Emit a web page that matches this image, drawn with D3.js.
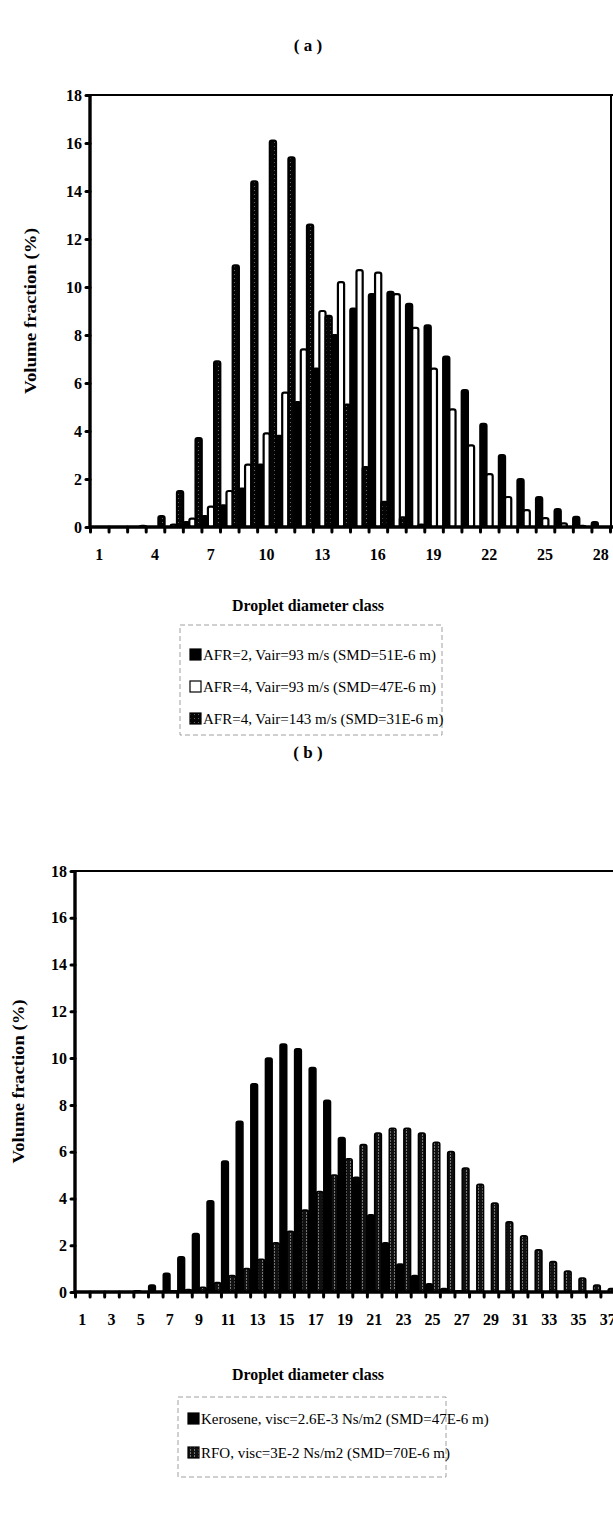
<!DOCTYPE html>
<html><head><meta charset="utf-8">
<script src="https://cdn.jsdelivr.net/npm/d3@7"></script>
<style>body{margin:0;background:#fff;} svg text{font-family:"Liberation Serif","Times New Roman",serif;fill:#000;}</style>
</head><body><svg id="c" width="613" height="1540"></svg>
<script>
// ---------- DATA ----------
const classesA = d3.range(1, 29);
const afr2v93  = [0,0,0,0,0,0.2,0.45,0.9,1.6,2.6,3.8,5.2,6.6,8.0,9.1,9.7,9.8,9.3,8.4,7.1,5.7,4.3,3.0,2.0,1.25,0.75,0.42,0.2];
const afr4v93  = [0,0,0,0,0.1,0.35,0.85,1.5,2.6,3.9,5.6,7.4,9.0,10.2,10.7,10.6,9.7,8.3,6.6,4.9,3.4,2.2,1.25,0.7,0.37,0.15,0.05,0];
const afr4v143 = [0,0,0.05,0.45,1.5,3.7,6.9,10.9,14.4,16.1,15.4,12.6,8.8,5.1,2.5,1.05,0.4,0.1,0,0,0,0,0,0,0,0,0,0];
const xLabelsA = [1,4,7,10,13,16,19,22,25,28];
const legendA  = ["AFR=2, Vair=93 m/s (SMD=51E-6 m)","AFR=4, Vair=93 m/s (SMD=47E-6 m)","AFR=4, Vair=143 m/s (SMD=31E-6 m)"];

const classesB = d3.range(1, 38);
const kerosene = [0,0,0,0,0.05,0.3,0.8,1.5,2.5,3.9,5.6,7.3,8.9,10.0,10.6,10.4,9.6,8.2,6.6,4.9,3.3,2.1,1.2,0.7,0.35,0.15,0.05,0,0,0,0,0,0,0,0,0,0];
const rfo      = [0,0,0,0,0,0,0.05,0.1,0.2,0.4,0.7,1.0,1.4,2.1,2.6,3.5,4.3,5.0,5.7,6.3,6.8,7.0,7.0,6.8,6.4,6.0,5.3,4.6,3.8,3.0,2.4,1.8,1.3,0.9,0.6,0.3,0.15];
const xLabelsB = d3.range(1, 38, 2);
const legendB  = ["Kerosene, visc=2.6E-3 Ns/m2 (SMD=47E-6 m)","RFO, visc=3E-2 Ns/m2 (SMD=70E-6 m)"];

const yTicks = [0,2,4,6,8,10,12,14,16,18];

// ---------- DRAW ----------
const svg = d3.select("#c");
const defs = svg.append("defs");
const pat = defs.append("pattern").attr("id","hatch").attr("width",4).attr("height",4).attr("patternUnits","userSpaceOnUse");
pat.append("rect").attr("width",4).attr("height",4).attr("fill","#050505");
pat.append("rect").attr("x",2).attr("y",2).attr("width",1).attr("height",1).attr("fill","#666");
const pat2 = defs.append("pattern").attr("id","hatch2").attr("width",4).attr("height",3).attr("patternUnits","userSpaceOnUse");
pat2.append("rect").attr("width",4).attr("height",3).attr("fill","#111");
pat2.append("rect").attr("x",2).attr("width",1).attr("height",2).attr("fill","#777");

function drawChart(o) {
  const g = svg.append("g");
  const x0 = d3.scaleBand().domain(o.classes).range([o.left, o.right]).paddingInner(0).paddingOuter(0);
  const xLin = d3.scaleLinear().domain([0.5, o.classes.length + 0.5]).range([o.left, o.right]);
  const y = d3.scaleLinear().domain([0, 18]).range([o.bottom, o.top]);
  const x1 = d3.scaleBand().domain(d3.range(o.series.length)).range([o.barOff, x0.bandwidth() + o.barOff]).padding(o.barPad);

  g.append("text").attr("x", 308).attr("y", o.titleY).attr("text-anchor","middle")
    .attr("font-weight","bold").attr("font-size", 17).text(o.title);

  o.series.forEach((s, si) => {
    g.append("g").selectAll("rect").data(o.classes.map((c, i) => ({c, v: s.values[i]})).filter(d => d.v > 0))
      .join("rect")
      .attr("x", d => x0(d.c) + x1(si))
      .attr("y", d => y(d.v))
      .attr("width", x1.bandwidth())
      .attr("height", d => o.bottom - y(d.v))
      .attr("rx", 2)
      .attr("fill", s.fill).attr("stroke","#000").attr("stroke-width", o.barStroke);
  });

  g.append("line").attr("x1", o.left).attr("x2", 613).attr("y1", o.top).attr("y2", o.top).attr("stroke","#000").attr("stroke-width",2);
  g.append("line").attr("x1", o.frameRight).attr("x2", o.frameRight).attr("y1", o.top).attr("y2", o.bottom).attr("stroke","#000").attr("stroke-width",2);

  const ya = g.append("g").attr("transform", `translate(${o.left},0)`)
    .call(d3.axisLeft(y).tickValues(yTicks).tickSize(4).tickPadding(4).tickFormat(d3.format("d")));
  ya.select(".domain").attr("stroke-width", 3.4).attr("d", `M0,${o.bottom}V${o.top}`);
  ya.selectAll(".tick line").attr("stroke-width", 3).attr("stroke-linecap","round");
  ya.selectAll(".tick text").attr("font-weight","bold").attr("font-size", 16).attr("font-family","Liberation Serif");

  const bounds = d3.range(0, o.classes.length + 1).map(i => i + 0.5);
  const xa = g.append("g").attr("transform", `translate(0,${o.bottom})`)
    .call(d3.axisBottom(xLin).tickValues(bounds).tickSize(5).tickFormat(""));
  xa.select(".domain").attr("stroke-width", 3.4).attr("d", `M${o.left},0H613`);
  xa.selectAll(".tick line").attr("stroke-width", 3).attr("stroke-linecap","round");

  const xl = g.append("g").attr("transform", `translate(0,${o.bottom})`)
    .call(d3.axisBottom(x0).tickValues(o.xLabels).tickSize(0).tickPadding(o.labelPad));
  xl.select(".domain").remove();
  xl.selectAll(".tick text").attr("font-weight","bold").attr("font-size", 16).attr("font-family","Liberation Serif");

  g.append("text").attr("x", 308).attr("y", o.xTitleY).attr("text-anchor","middle")
    .attr("font-weight","bold").attr("font-size", 16).attr("textLength", 152).attr("lengthAdjust","spacingAndGlyphs")
    .text("Droplet diameter class");
  g.append("text").attr("transform", `translate(${o.yTitleX},${(o.top + o.bottom)/2}) rotate(-90)`)
    .attr("text-anchor","middle").attr("font-weight","bold").attr("font-size", 16.5)
    .attr("textLength", o.yTitleLen).attr("lengthAdjust","spacingAndGlyphs").text("Volume fraction (%)");

  const L = o.legend;
  g.append("rect").attr("x", L.x).attr("y", L.y).attr("width", L.w).attr("height", L.h)
    .attr("fill","none").attr("stroke","#888").attr("stroke-width",0.8).attr("stroke-dasharray","5,3");
  o.series.forEach((s, si) => {
    const cy = L.y + L.first + si * L.step;
    g.append("rect").attr("x", L.x + L.sx).attr("y", cy - 6).attr("width", 11).attr("height", 11)
      .attr("fill", s.fill).attr("stroke","#000").attr("stroke-width",1.2);
    g.append("text").attr("x", L.x + L.sx + 13).attr("y", cy + 5).attr("font-size", 15).text(s.name);
  });
}

drawChart({
  title: "( a )", titleY: 51,
  classes: classesA, left: 90, right: 610, frameRight: 611, top: 95, bottom: 527,
  xLabels: xLabelsA, labelPad: 22, xTitleY: 611, yTitleX: 36, yTitleLen: 166,
  barOff: 0.3, barPad: 0.0, barStroke: 2.2,
  series: [
    {name: legendA[0], values: afr2v93, fill: "#000"},
    {name: legendA[1], values: afr4v93, fill: "#fff"},
    {name: legendA[2], values: afr4v143, fill: "url(#hatch)"}
  ],
  legend: {x: 180, y: 625, w: 262, h: 110, first: 30, step: 32, sx: 10}
});

drawChart({
  title: "( b )", titleY: 758,
  classes: classesB, left: 75, right: 615, frameRight: 615, top: 871, bottom: 1292,
  xLabels: xLabelsB, labelPad: 22, xTitleY: 1380, yTitleX: 24, yTitleLen: 164,
  barOff: 0.3, barPad: 0.06, barStroke: 1.6,
  series: [
    {name: legendB[0], values: kerosene, fill: "#000"},
    {name: legendB[1], values: rfo, fill: "url(#hatch2)"}
  ],
  legend: {x: 178, y: 1397, w: 268, h: 80, first: 22, step: 34, sx: 10}
});
</script>
</body></html>
